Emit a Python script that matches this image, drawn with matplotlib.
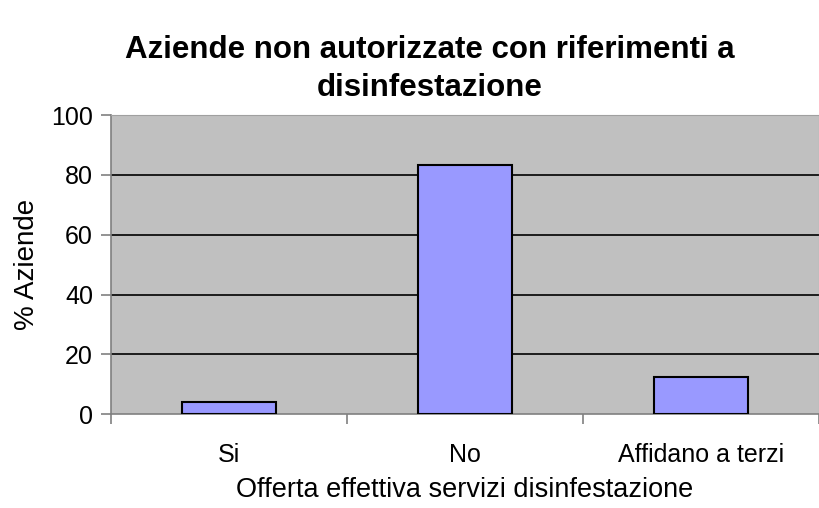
import matplotlib
matplotlib.use("Agg")
import matplotlib.pyplot as plt
import numpy as np

categories = ["Si", "No", "Affidano a terzi"]
values = [4.2, 83.3, 12.5]
yticks = [0, 20, 40, 60, 80, 100]

plt.rcParams['font.family'] = ['Liberation Sans', 'DejaVu Sans']

fig = plt.figure(figsize=(8.19, 5.08), dpi=100)
ax = fig.add_axes([0.1355, 0.1844, 0.8645, 0.5892])
ax.set_facecolor('#C0C0C0')

x = np.arange(len(categories))
ax.bar(x, values, width=0.4, color='#9999FF', edgecolor='black', linewidth=1.5, zorder=3)

ax.set_xlim(-0.5, len(categories) - 0.5)
ax.set_ylim(0, 100)
ax.set_yticks(yticks)
ax.set_yticklabels([str(v) for v in yticks], fontsize=18)
for v in yticks[1:-1]:
    ax.axhline(v, color='black', linewidth=1.2, zorder=1)

# category boundary ticks on x axis, labels at centers
ax.set_xticks(x)
ax.set_xticklabels(categories, fontsize=18)
ax.tick_params(axis='x', length=0, pad=21)
ax.set_xticks(np.arange(-0.5, len(categories), 1.0), minor=True)
ax.tick_params(axis='x', which='minor', length=7, color='#808080', width=1.2)
ax.tick_params(axis='y', length=7, color='#808080', width=1.2, pad=6)

for s in ['top', 'right']:
    ax.spines[s].set_color('#A0A0A0')
for s in ['left', 'bottom']:
    ax.spines[s].set_color('#808080')
    ax.spines[s].set_linewidth(1.2)

ax.set_ylabel("% Aziende", fontsize=20, labelpad=8)
ax.set_xlabel("Offerta effettiva servizi disinfestazione", fontsize=19.5, labelpad=7)

fig.text(0.525, 0.865, "Aziende non autorizzate con riferimenti a\ndisinfestazione",
         ha='center', va='center', fontsize=22.5, fontweight='bold', linespacing=1.35)

fig.savefig("out.png", dpi=100)
